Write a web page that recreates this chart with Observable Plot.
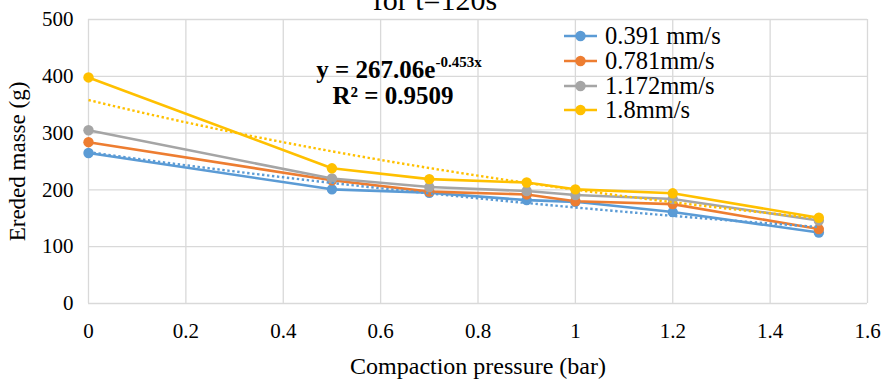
<!DOCTYPE html>
<html>
<head>
<meta charset="utf-8">
<script src="https://cdn.jsdelivr.net/npm/d3@7"></script>
<script src="https://cdn.jsdelivr.net/npm/@observablehq/plot@0.6"></script>
<style>
  html, body { margin: 0; padding: 0; background: #fff; }
  #wrap { position: relative; width: 890px; height: 383px; overflow: hidden; font-family: "Liberation Serif", "Times New Roman", serif; color: #000; }
  #wrap svg { display: block; }
  .title { position: absolute; left: 235px; width: 400px; top: -15px; text-align: center; font-size: 30px; line-height: 30px; white-space: nowrap; }
  .legend { position: absolute; left: 564px; top: 24px; }
  .legend .row { display: flex; align-items: center; height: 24.7px; font-size: 24.5px; white-space: nowrap; }
  .legend .row svg { margin-right: 8px; }
  .eq { position: absolute; left: 249px; width: 300px; text-align: center; font-weight: bold; font-size: 25px; line-height: 26px; white-space: nowrap; }
  .eq sup { font-size: 15px; position: relative; top: -11px; vertical-align: baseline; line-height: 0; }
</style>
</head>
<body>
<div id="wrap"></div>
<script>
// ---- data ----
const pressure = [0, 0.5, 0.7, 0.9, 1, 1.2, 1.5];
const seriesNames = ["0.391 mm/s", "0.781mm/s", "1.172mm/s", "1.8mm/s"];
const v0391 = [265, 201, 195, 182, 179, 161, 125];
const v0781 = [284, 217, 197, 192, 180, 175, 131];
const v1172 = [305, 220, 205, 198, 191, 184, 146];
const v18   = [398, 238, 219, 213, 201, 194, 151];
const colors = ["#5B9BD5", "#ED7D31", "#A5A5A5", "#FFC000"];
const xTicks = [0, 0.2, 0.4, 0.6, 0.8, 1, 1.2, 1.4, 1.6];
const yTicks = [0, 100, 200, 300, 400, 500];
const titleText = "for t=120s";
const eqMain = "y = 267.06e";
const eqExp = "-0.453x";
const eqR2 = "R² = 0.9509";
const xLabel = "Compaction pressure (bar)";
const yLabel = "Ereded masse (g)";

const allValues = [v0391, v0781, v1172, v18];
const rows = [];
allValues.forEach((vals, si) => vals.forEach((v, i) => rows.push({series: seriesNames[si], x: pressure[i], y: v})));

// exponential least-squares fit (on log y), as Excel's trendline
function fitExp(xs, ys) {
  const ly = ys.map(Math.log);
  const mx = d3.mean(xs), my = d3.mean(ly);
  let sxy = 0, sxx = 0;
  xs.forEach((x, i) => { sxy += (x - mx) * (ly[i] - my); sxx += (x - mx) ** 2; });
  const b = sxy / sxx;
  const a = Math.exp(my - b * mx);
  return {a, b};
}
function trend(xs, ys, si) {
  const {a, b} = fitExp(xs, ys);
  const x0 = d3.min(xs), x1 = d3.max(xs);
  return d3.range(0, 61).map(k => { const x = x0 + (x1 - x0) * k / 60; return {series: seriesNames[si], x, y: a * Math.exp(b * x)}; });
}
const trendRows = [...trend(pressure, v0391, 0), ...trend(pressure, v18, 3)];

const colorScale = {domain: seriesNames, range: colors};

const chart = Plot.plot({
  width: 890, height: 383,
  marginLeft: 88, marginRight: 23, marginTop: 19, marginBottom: 80,
  style: {fontFamily: "'Liberation Serif', 'Times New Roman', serif", fontSize: "21px", color: "#000", background: "#fff", overflow: "visible"},
  x: {domain: [0, 1.6]},
  y: {domain: [0, 500]},
  color: colorScale,
  marks: [
    Plot.gridX(xTicks, {stroke: "#d9d9d9", strokeOpacity: 1, strokeWidth: 1.3}),
    Plot.gridY(yTicks, {stroke: "#d9d9d9", strokeOpacity: 1, strokeWidth: 1.3}),
    Plot.axisX(xTicks, {tickSize: 0, tickPadding: 20, tickFormat: d => String(d), fontSize: 21,
      label: xLabel, labelAnchor: "center", labelArrow: "none", labelOffset: 70}),
    Plot.axisY(yTicks, {tickSize: 0, tickPadding: 15, tickFormat: d => String(d), fontSize: 21,
      label: yLabel, labelAnchor: "center", labelArrow: "none", labelOffset: 80}),
    Plot.line(rows, {x: "x", y: "y", z: "series", stroke: "series", strokeWidth: 2.6}),
    Plot.dot(rows, {x: "x", y: "y", fill: "series", r: 5.2, stroke: "none"}),
    Plot.line(trendRows, {x: "x", y: "y", z: "series", stroke: "series", strokeWidth: 2.4, strokeDasharray: "2.4 2.6", strokeLinecap: "butt"})
  ]
});
// axis label font sizes
d3.select(chart).selectAll("g[aria-label='x-axis label'] text").style("font-size", "24px");
d3.select(chart).selectAll("g[aria-label='y-axis label'] text").style("font-size", "23px");

const wrap = document.getElementById("wrap");
wrap.appendChild(chart);

// title (clipped at the top as in the reference)
const t = document.createElement("div");
t.className = "title"; t.textContent = titleText; wrap.appendChild(t);

// legend
const leg = d3.select(wrap).append("div").attr("class", "legend");
seriesNames.forEach((name, i) => {
  const r = leg.append("div").attr("class", "row");
  const s = r.append("svg").attr("width", 33).attr("height", 14);
  s.append("line").attr("x1", 0).attr("x2", 33).attr("y1", 7).attr("y2", 7).attr("stroke", colors[i]).attr("stroke-width", 2.6);
  s.append("circle").attr("cx", 16.5).attr("cy", 7).attr("r", 5.2).attr("fill", colors[i]);
  r.append("span").text(name);
});

// equation
const e1 = d3.select(wrap).append("div").attr("class", "eq").style("top", "57px");
e1.append("span").text(eqMain);
e1.append("sup").text(eqExp);
d3.select(wrap).append("div").attr("class", "eq").style("top", "83px").style("left", "243px").text(eqR2);
</script>
</body>
</html>
